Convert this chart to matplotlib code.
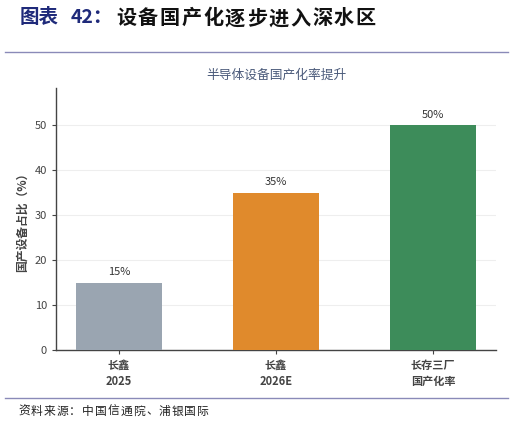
import matplotlib
matplotlib.use("Agg")
import matplotlib.pyplot as plt

plt.rcParams['font.family'] = ['Noto Sans CJK SC', 'DejaVu Sans']

categories = ["长鑫\n2025", "长鑫\n2026E", "长存三厂\n国产化率"]
values = [15, 35, 50]
labels = ["15%", "35%", "50%"]
colors = ["#9aa5b1", "#e08a2c", "#3d8c5a"]

header_tag = "图表"
header_num = "42："
header_text = "设备国产化逐步进入深水区"
subtitle = "半导体设备国产化率提升"
source = "资料来源：中国信通院、浦银国际"

fig = plt.figure(figsize=(5.13, 4.23), dpi=100)
ax = fig.add_axes([0.109, 0.1726, 0.858, 0.619])

x = range(len(categories))
bars = ax.bar(x, values, width=0.55, color=colors, zorder=3)
for b, lab in zip(bars, labels):
    ax.text(b.get_x() + b.get_width() / 2, b.get_height() + 1.2, lab,
            ha="center", va="bottom", fontsize=8, color="#333333")

ax.set_ylim(0, 58.2)
ax.set_yticks([0, 10, 20, 30, 40, 50])
ax.set_xticks(list(x))
ax.set_xticklabels(categories, fontsize=8, color="#606060", linespacing=1.25,
                   fontweight="bold")
ax.tick_params(axis="y", labelsize=8, colors="#444444", length=3)
ax.tick_params(axis="x", length=3, colors="#444444")
ax.grid(axis="y", color="#eeeeee", linewidth=0.8, zorder=0)
for s in ["top", "right"]:
    ax.spines[s].set_visible(False)
for s in ["left", "bottom"]:
    ax.spines[s].set_color("#444444")
    ax.spines[s].set_linewidth(1.0)
ax.set_ylabel("国产设备占比（%）", fontsize=8.5, color="#444444",
              fontweight="bold")
ax.set_title(subtitle, fontsize=9.2, color="#4a5a7a", pad=7)

# header, characters spread out as in the report style
hy = 0.958
fig.text(20 / 513, hy, header_tag, fontsize=14, fontweight="bold",
         color="#1f2a7a", va="center")
fig.text(71 / 513, hy, header_num, fontsize=14, fontweight="bold",
         color="#1f2a7a", va="center")
for i, ch in enumerate(header_text):
    fig.text((116 + i * 21.8) / 513, hy, ch, fontsize=14.5,
             fontweight="bold", color="#111111", va="center")
fig.add_artist(plt.Line2D([0.01, 0.99], [0.877, 0.877], color="#8a8ab8",
                          linewidth=1.0, transform=fig.transFigure))
fig.add_artist(plt.Line2D([0.01, 0.99], [0.059, 0.059], color="#8a8ab8",
                          linewidth=1.0, transform=fig.transFigure))
for i, ch in enumerate(source):
    fig.text((18 + i * 12.8) / 513, 0.028, ch, fontsize=8.5,
             color="#222222", va="center")

fig.savefig("out.png", dpi=100)
